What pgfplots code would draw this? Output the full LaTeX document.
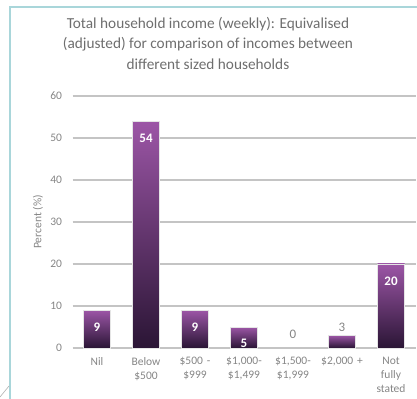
\documentclass[border=0pt]{standalone}
\usepackage{pgfplots}
\pgfplotsset{compat=1.18}
\usepackage{fontspec}
\setmainfont{Carlito}
\definecolor{titlegray}{HTML}{6E6E6E}
\definecolor{tickgray}{HTML}{858585}
\definecolor{gridgray}{HTML}{C4C4C4}
\definecolor{bartop}{HTML}{9C56A6}
\definecolor{barbot}{HTML}{2A1535}
\definecolor{frameteal}{HTML}{A9D6DA}
\begin{document}
\begin{tikzpicture}
\useasboundingbox (0bp,0bp) rectangle (417bp,399bp);
\draw[frameteal, line width=1.2bp] (10bp,0bp) -- (10bp,392bp) -- (417bp,392bp);
\draw[gray!60, line width=0.6bp] (0bp,2bp) -- (9bp,13bp);
\node[align=center, font=\fontsize{15.3bp}{20.5bp}\selectfont, text=titlegray] at (208bp,356bp)
  {Total household income (weekly): Equivalised\\(adjusted) for comparison of incomes between\\different sized households};
\begin{axis}[
  at={(72.5bp,51bp)}, anchor=south west,
  scale only axis, width=343bp, height=252bp,
  xmin=-0.5, xmax=6.5, ymin=0, ymax=60,
  ytick={0,10,...,60},
  xtick={0,...,6},
  xticklabels={{Nil}, {Below\\\$500}, {\$500 -\\\$999}, {\$1,000-\\\$1,499}, {\$1,500-\\\$1,999}, {\$2,000 +}, {Not\\fully\\stated}},
  axis line style={draw=none},
  major tick length=0pt,
  ymajorgrids,
  grid style={gridgray, line width=1.6bp},
  yticklabel style={font=\fontsize{11.5bp}{13bp}\selectfont, text=tickgray, xshift=-7bp},
  xticklabel style={font=\fontsize{11.5bp}{14bp}\selectfont, text=tickgray, align=center, text width=48bp, yshift=-8bp, inner sep=1bp},
  /pgf/number format/assume math mode=true,
  every axis y label/.style={at={(axis description cs:-0.1006,0.5)}, rotate=90, anchor=center},
  ylabel={Percent (\%)},
  ylabel style={font=\fontsize{11.5bp}{13bp}\selectfont, text=tickgray},
  ybar, bar width=27bp,
  clip=false,
  barstyle/.style={bar shift=0pt, draw=white!80!gray, line width=0.4bp, top color=bartop, bottom color=barbot},
]
\addplot[barstyle] coordinates {(0,9)};
\addplot[barstyle] coordinates {(1,54)};
\addplot[barstyle] coordinates {(2,9)};
\addplot[barstyle] coordinates {(3,5)};
\addplot[barstyle] coordinates {(5,3)};
\addplot[barstyle] coordinates {(6,20)};
\addplot[bar shift=0pt, draw=none, fill=none, nodes near coords,
  nodes near coords style={anchor=north, yshift=-9bp, text=white, font=\fontsize{13bp}{14bp}\selectfont\bfseries}]
  coordinates {(0,9) (1,54) (2,9) (3,5) (6,20)};
\addplot[bar shift=0pt, draw=none, fill=none, nodes near coords,
  nodes near coords style={anchor=south, yshift=6bp, text=tickgray, font=\fontsize{13bp}{14bp}\selectfont}]
  coordinates {(4,0)};
\addplot[bar shift=0pt, draw=none, fill=none, nodes near coords,
  nodes near coords style={anchor=south, yshift=0bp, text=tickgray, font=\fontsize{13bp}{14bp}\selectfont}]
  coordinates {(5,3)};
\end{axis}
\end{tikzpicture}
\end{document}
